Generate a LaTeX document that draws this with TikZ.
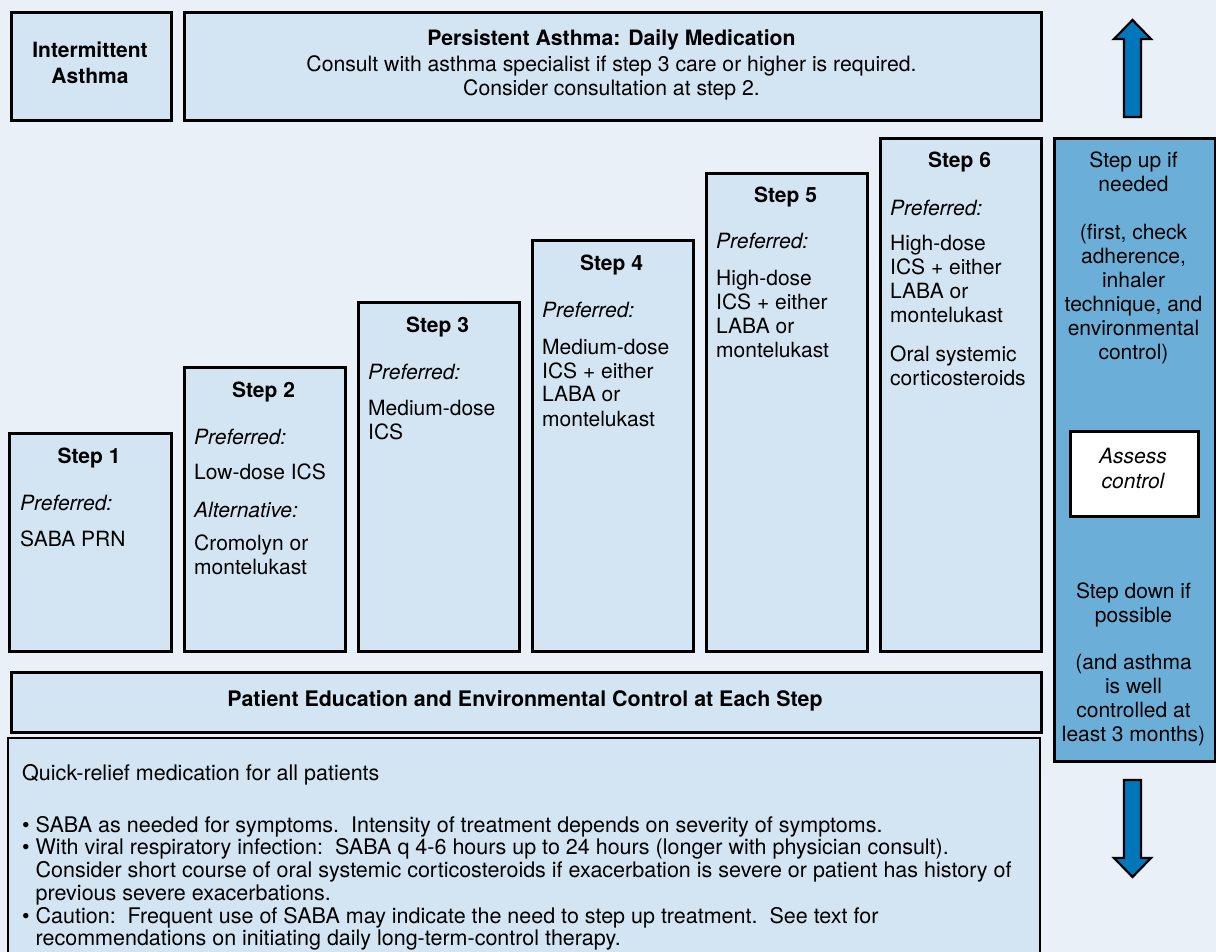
\documentclass[tikz,border=0pt]{standalone}
\usepackage{fontspec}
\setmainfont{TeX Gyre Heros}
\definecolor{pagebg}{HTML}{E9F0F8}
\definecolor{boxfill}{HTML}{D3E4F2}
\definecolor{sidefill}{HTML}{6BAFD8}
\definecolor{arrowfill}{HTML}{0077BB}
% multi-line blocks whose baseline is the first line
\newcommand\linesL[1]{\begin{tabular}[t]{@{}l@{}}#1\end{tabular}}
\newcommand\linesC[1]{\begin{tabular}[t]{@{}c@{}}#1\end{tabular}}
\tikzset{
  panel/.style={draw=black, line width=2.6pt, fill=boxfill, inner sep=0pt, anchor=north west},
  sidepanel/.style={panel, fill=sidefill},
  whitepanel/.style={panel, fill=white},
  txt/.style={inner sep=0pt, font=\fontsize{21}{24}\selectfont},
  lefttxt/.style={txt, anchor=base west},
  midtxt/.style={txt, anchor=base},
  notetxt/.style={lefttxt, font=\fontsize{21.5}{22.6}\selectfont},
  bigarrow/.style={draw=black, line width=2.2pt, fill=arrowfill, line join=miter}
}
\begin{document}
\begin{tikzpicture}[x=1pt,y=-1pt]
\useasboundingbox (0,0) rectangle (1216,952);
\fill[pagebg] (0,0) rectangle (1216,952);

% header panels
\node[panel, minimum width=160pt, minimum height=108pt] (inter) at (10,11) {};
\node[midtxt] (intertxt) at (90,58) {\bfseries\linesC{Intermittent\\[2pt] Asthma}};
\node[panel, minimum width=857pt, minimum height=108pt] (persist) at (183,11) {};
\node[midtxt, font=\fontsize{21.2}{24}\selectfont] (persisttxt) at (611.5,46) {\linesC{\textbf{Persistent Asthma: Daily Medication}\\[2pt]
  Consult with asthma specialist if step 3 care or higher is required.\\
  Consider consultation at step 2.}};

% the six steps
\node[panel, minimum width=162pt, minimum height=218pt] (s1) at (8,432) {};
\node[midtxt] (s1t) at (89,463) {\bfseries Step 1};
\node[lefttxt] (s1b) at (20,510) {\linesL{\textit{Preferred:}\\[12pt] SABA PRN}};

\node[panel, minimum width=161pt, minimum height=284pt] (s2) at (183,366) {};
\node[midtxt] (s2t) at (263.5,397) {\bfseries Step 2};
\node[lefttxt] (s2b) at (194,444) {\linesL{\textit{Preferred:}\\[11pt] Low-dose ICS\\[14pt]
  \textit{Alternative:}\\[9pt] Cromolyn or\\ montelukast}};

\node[panel, minimum width=161pt, minimum height=349pt] (s3) at (357,301) {};
\node[midtxt] (s3t) at (437.5,332) {\bfseries Step 3};
\node[lefttxt] (s3b) at (368,379) {\linesL{\textit{Preferred:}\\[12pt] Medium-dose\\ ICS}};

\node[panel, minimum width=161pt, minimum height=411pt] (s4) at (531,239) {};
\node[midtxt] (s4t) at (611.5,271) {\bfseries Step 4};
\node[lefttxt] (s4b) at (542,317) {\linesL{\textit{Preferred:}\\[13pt] Medium-dose\\ ICS + either\\ LABA or\\ montelukast}};

\node[panel, minimum width=161pt, minimum height=478pt] (s5) at (705,172) {};
\node[midtxt] (s5t) at (785.5,203) {\bfseries Step 5};
\node[lefttxt] (s5b) at (716,249) {\linesL{\textit{Preferred:}\\[13pt] High-dose\\ ICS + either\\ LABA or\\ montelukast}};

\node[panel, minimum width=161pt, minimum height=513pt] (s6) at (879,137) {};
\node[midtxt] (s6t) at (959.5,168) {\bfseries Step 6};
\node[lefttxt] (s6b) at (890,216) {\linesL{\textit{Preferred:}\\[11pt] High-dose\\ ICS + either\\ LABA or\\ montelukast\\[15pt]
  Oral systemic\\ corticosteroids}};

% education bar
\node[panel, minimum width=1030pt, minimum height=60pt] (edu) at (10,671) {};
\node[midtxt, font=\fontsize{21.4}{24}\selectfont] (edutxt) at (525,706) {\bfseries Patient Education and Environmental Control at Each Step};

% quick-relief panel, running off the lower edge
\fill[boxfill] (8,738) rectangle (1040,960);
\draw[line width=2.6pt] (8,960) -- (8,738) -- (1040,738) -- (1040,960);
\node[notetxt] (quick) at (22,780) {Quick-relief medication for all patients};
\node[notetxt] (bullets) at (22,832) {\linesL{%
  \textbullet\ SABA as needed for symptoms.\ \ Intensity of treatment depends on severity of symptoms.\\
  \textbullet\ With viral respiratory infection:\ \ SABA q 4-6 hours up to 24 hours (longer with physician consult).\\
  \phantom{\textbullet\ }Consider short course of oral systemic corticosteroids if exacerbation is severe or patient has history of\\
  \phantom{\textbullet\ }previous severe exacerbations.\\
  \textbullet\ Caution:\ \ Frequent use of SABA may indicate the need to step up treatment.\ \ See text for\\
  \phantom{\textbullet\ }recommendations on initiating daily long-term-control therapy.}};

% side column
\node[sidepanel, minimum width=161pt, minimum height=623pt] (side) at (1053,137) {};
\node[midtxt] (uptxt) at (1133.5,168) {\linesC{Step up if\\ needed\\[24pt] (first, check\\ adherence,\\ inhaler\\
  technique, and\\ environmental\\ control)}};
\node[whitepanel, minimum width=128pt, minimum height=85pt] (assess) at (1069,430) {};
\node[midtxt] (assesstxt) at (1133,463) {\itshape\linesC{Assess\\[1pt] control}};
\node[midtxt] (downtxt) at (1133.5,598) {\linesC{Step down if\\ possible\\[23pt] (and asthma\\ is well\\
  controlled at\\ least 3 months)}};

% up and down arrows
\draw[bigarrow] (1124,117) -- (1124,39) -- (1114,39) -- (1132.5,20) -- (1151,39) -- (1141,39) -- (1141,117) -- cycle;
\draw[bigarrow] (1124,780) -- (1124,858) -- (1114,858) -- (1132.5,877) -- (1151,858) -- (1141,858) -- (1141,780) -- cycle;
\end{tikzpicture}
\end{document}
